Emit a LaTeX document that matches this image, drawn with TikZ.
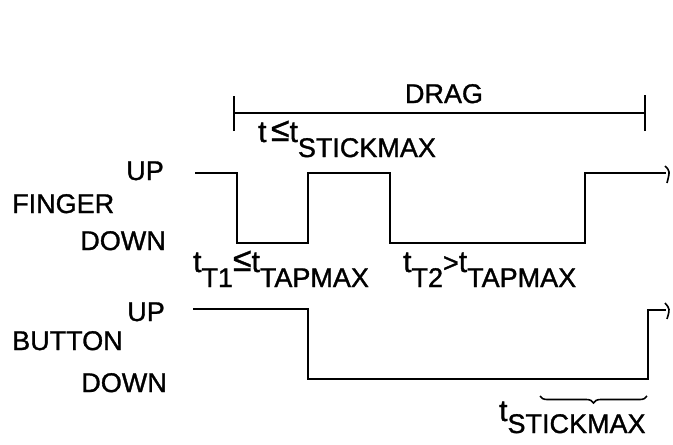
\documentclass[tikz,border=0pt]{standalone}
\usepackage{fontspec}
\setmainfont[FakeBold=1.2]{Liberation Sans}
\usetikzlibrary{decorations.pathreplacing}
\newcommand{\lowr}[1]{\raisebox{-15pt}{#1}}
\newcommand{\mytee}{{\fontsize{30}{30}\selectfont t}}
\newcommand{\myle}{\raisebox{1pt}{\scalebox{1.25}{≤}}}
\begin{document}
\begin{tikzpicture}[x=1pt,y=-1pt,
  lbl/.style={inner sep=0pt, font=\fontsize{27}{30}\selectfont},
  wave/.style={line width=1.8pt, line join=miter},
]
\useasboundingbox (0,0) rectangle (673,445);
% labels
\node[lbl, anchor=base east] (fup) at (164,180) {UP};
\node[lbl, anchor=base west] (finger) at (12,213) {FINGER};
\node[lbl, anchor=base east] (fdown) at (166,250) {DOWN};
\node[lbl, anchor=base east] (bup) at (165,321) {UP};
\node[lbl, anchor=base west] (button) at (12,350) {BUTTON};
\node[lbl, anchor=base east] (bdown) at (167,392) {DOWN};
\node[lbl, anchor=base] (drag) at (444,103) {DRAG};
\node[lbl, anchor=base west] (tstick) at (258,142) {\mytee\,\myle\mytee\lowr{STICKMAX}};
\node[lbl, anchor=base west] (tt1) at (193,272) {\mytee\lowr{T1}\myle\mytee\lowr{TAPMAX}};
\node[lbl, anchor=base west] (tt2) at (403,272) {\mytee\lowr{T2}>\mytee\lowr{TAPMAX}};
\node[lbl, anchor=base west] (tsm) at (499,421) {\mytee\raisebox{-12pt}{STICKMAX}};
% drag bar
\coordinate (dl) at (234,113);
\coordinate (dr) at (645,113);
\draw[wave] (dl) -- (dr);
\draw[wave] ([yshift=-18pt]dl) -- ([yshift=17pt]dl);
\draw[wave] ([yshift=-18pt]dr) -- ([yshift=18pt]dr);
% finger waveform
\draw[wave] (195,173) -- (237,173) -- (237,243) -- (308,243) -- (308,173)
  -- (390,173) -- (390,243) -- (585,243) -- (585,173) -- (666,173);
\draw[line width=1.6pt] (665,166) .. controls (670,171) .. (667,183);
% button waveform
\draw[wave] (193,309) -- (308,309) -- (308,379) -- (648,379) -- (648,310) -- (666,310);
\draw[line width=1.6pt] (665,303) .. controls (670,309) .. (667,319);
% brace
\draw[line width=1.6pt, decorate, decoration={brace, amplitude=7pt}] (647,396) -- (540,396);
\end{tikzpicture}
\end{document}
